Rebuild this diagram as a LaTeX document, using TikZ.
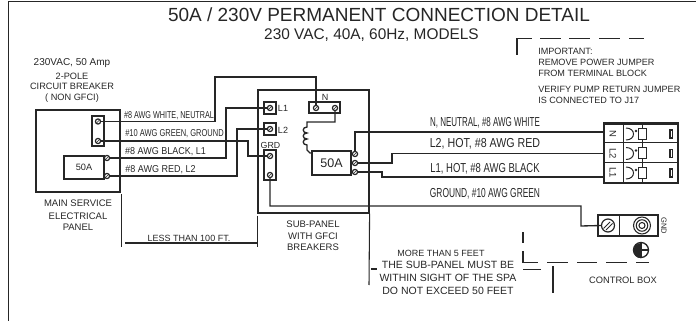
\documentclass[tikz,border=0pt]{standalone}
\usepackage{fontspec}
\usepackage{graphicx}
\setmainfont{Liberation Sans}
\usetikzlibrary{calc}
\newcommand{\pxfont}[1]{\fontsize{\dimexpr #1pt*3/4\relax}{\dimexpr #1pt*9/10\relax}\selectfont}
\newcommand{\cond}[2]{\scalebox{#1}[1]{#2}}
\def\px{0.75pt}
\colorlet{ink}{black!85}
\tikzset{
  x=0.75pt,y=-0.75pt,
  every node/.style={text=ink},
  frameline/.style={draw=ink,line width=0.75pt},
  wire/.style={draw=ink,line width=1pt},
  termbox/.style={draw=ink,line width=0.9pt,rectangle,inner sep=0pt},
  screw/.style={draw=ink,line width=0.9pt,circle,inner sep=0pt,minimum size=3.9pt,path picture={\draw[ink,line width=0.5pt] (path picture bounding box.south west)--(path picture bounding box.north east);}},
  lab/.style={inner sep=0pt,align=center},
  dimline/.style={draw=ink,line width=0.8pt},
  dashline/.style={draw=ink,line width=1pt},
  border/.style={draw=ink,line width=1.2pt},
}
\newcommand{\bx}[5]{\node[termbox,minimum width=#4*\px,minimum height=#5*\px] (#1) at (#2,#3) {};}
\begin{document}
\begin{tikzpicture}
\useasboundingbox (0,0) rectangle (697,321);
% frame
\coordinate (fa) at (8.5,321); \coordinate (fb) at (8.5,1.5); \coordinate (fc) at (696,1.5);
\draw[border] (fa)--(fb)--(fc);
% titles
\node[lab] (t1) at (379,15) {\pxfont{19}50A / 230V PERMANENT CONNECTION DETAIL};
\node[lab] (t2) at (371.5,35) {\pxfont{15.4}230 VAC, 40A, 60Hz, MODELS};
% breaker label
\node[lab] (b1) at (72,63) {\pxfont{10}230VAC, 50 Amp};
\node[lab] (b2) at (72,76) {\pxfont{9.2}2-POLE};
\node[lab] (b3) at (72,86) {\pxfont{9.2}CIRCUIT BREAKER};
\node[lab] (b4) at (72,98) {\pxfont{9.2}( NON GFCI)};
% main panel
\node[termbox,minimum width=84*\px,minimum height=82*\px] (main) at (78,151) {};
\bx{twop}{98}{131}{12}{30}
\bx{fifa}{84}{167.5}{40}{23}
\node[lab] at (fifa) {\pxfont{9.2}50A};
\node[screw] (sn) at (98,121.5) {};
\node[screw] (sg) at (98,141) {};
\node[screw] (s1) at (107,158) {};
\node[screw] (s2) at (107,176) {};
\node[lab] at (78,203) {\pxfont{9.5}MAIN SERVICE};
\node[lab] at (78,216) {\pxfont{9.5}ELECTRICAL};
\node[lab] at (78,227) {\pxfont{9.5}PANEL};
% sub panel
\node[termbox,minimum width=111*\px,minimum height=123*\px] (sub) at (313.5,151.5) {};
\bx{bl1}{270}{108}{12}{12}
\bx{bl2}{270}{129}{12}{12}
\bx{bgr}{270}{165}{12}{30}
\bx{bn}{324.5}{107.5}{31}{11}
\node[screw] (tl1) at (270,108) {};
\node[screw] (tl2) at (270,129) {};
\node[screw] (tg1) at (270,156) {};
\node[screw] (tg2) at (270,175) {};
\node[screw] (tn1) at (316,108) {};
\node[screw] (tn2) at (335,108) {};
\node[lab] at (283,108.5) {\pxfont{9}L1};
\node[lab] at (283,130) {\pxfont{9}L2};
\node[lab] at (270.5,145.5) {\pxfont{8.8}GRD};
\node[lab] at (325,97.5) {\pxfont{9}N};
\bx{gf}{331.5}{163}{39}{24}
\node[lab] at (gf) {\pxfont{12.5}50A};
\node[screw] (g1) at (355,154) {};
\node[screw] (g2) at (355,163) {};
\node[screw] (g3) at (355,172) {};
% wires
\draw[wire] (sn.east) -- (215,121.5) -- (215,77) -- (316,77) -- (tn1.north);
\draw[wire] (s1.east) -- (226,158) -- (226,108) -- (tl1.west);
\draw[wire] (s2.east) -- (237,176) -- (237,129) -- (tl2.west);
\draw[wire] (sg.east) -- (248,141) -- (248,156) -- (tg1.west);
\draw[wire] (tn2.south) -- (335,122) -- (307,122) -- (307,127)
  .. controls (302,127) and (302,133) .. (307,133)
  .. controls (302,133) and (302,139) .. (307,139)
  .. controls (302,139) and (302,145) .. (307,145)
  -- (307,150) -- (310,153) -- (gf.west |- 0,153);
% outgoing
\coordinate (tN) at (604,132); \coordinate (tL2) at (604,153.5); \coordinate (tL1) at (604,177);
\draw[wire] (g1.north) -- (355,132) -- (tN);
\draw[wire] (g2.east) -- (392,163) -- (392,153.5) -- (tL2);
\draw[wire] (g3.east) -- (382,172) -- (382,177) -- (tL1);
\node[lab] (w1) at (169,116) {\cond{0.72}{\pxfont{10}\#8 AWG WHITE, NEUTRAL}};
\node[lab] (w2) at (174.5,134) {\cond{0.75}{\pxfont{10}\#10 AWG GREEN, GROUND}};
\node[lab] (w3) at (165.5,152) {\cond{0.9}{\pxfont{10}\#8 AWG BLACK, L1}};
\node[lab] (w4) at (160.5,170) {\cond{0.9}{\pxfont{10}\#8 AWG RED, L2}};
\node[lab] (r1) at (485,123) {\cond{0.615}{\pxfont{13}N, NEUTRAL, \#8 AWG WHITE}};
\node[lab] (r2) at (485,143.5) {\cond{0.82}{\pxfont{13}L2, HOT, \#8 AWG RED}};
\node[lab] (r3) at (485,169) {\cond{0.73}{\pxfont{13}L1, HOT, \#8 AWG BLACK}};
\node[lab] (r4) at (485,193.5) {\cond{0.645}{\pxfont{13}GROUND, \#10 AWG GREEN}};
% terminal block
\node[draw=ink,line width=0.9pt,minimum width=74*\px,minimum height=59*\px,inner sep=0pt] (tb) at (641,153.5) {};
\draw[draw=ink,line width=1.5pt] (tb.north west) -- (tb.north east);
\draw[frameline] (623.5,124) -- (623.5,183);
\draw[frameline] (642,124) -- (642,183);
\draw[frameline] (604,143) -- (678,143);
\draw[frameline] (604,163) -- (678,163);
\foreach \n/\y/\t in {a/134/N,b/153.5/L2,c/173/L1}{
  \node[lab,rotate=-90] at (613,\y) {\pxfont{9.5}\t};
  \draw[frameline] (626,\y-6) .. controls (636,\y-6) and (636,\y+6) .. (626,\y+6);
  \draw[frameline,fill=white] (638,\y-5.5) rectangle (646,\y+5.5);
  \fill[ink] (636,\y-3) circle (1.1pt);
  \draw[frameline,line width=1pt] (670,\y-4) rectangle (672.5,\y+4);
}
% ground terminal
\node[termbox,minimum width=60*\px,minimum height=21*\px] (gt) at (628,225.5) {};
\draw[frameline] (619,215) -- (619,236);
\node[draw=ink,line width=0.9pt,circle,minimum size=13*\px,inner sep=0pt] (gs) at (608,225.5) {};
\draw[ink,line width=0.7pt] (603.5,228.5) -- (610,222) (606,230) -- (612.5,223.5);
\node[draw=ink,line width=0.8pt,circle,minimum size=17*\px,inner sep=0pt] (ring) at (642,225.5) {};
\node[draw=ink,line width=0.8pt,circle,minimum size=11.5*\px,inner sep=0pt] at (642,225.5) {};
\node[draw=ink,line width=0.8pt,circle,minimum size=6*\px,inner sep=0pt] at (642,225.5) {};
\node[lab,rotate=-90] at (664,225.5) {\pxfont{7.5}GND};
\node[draw=ink,line width=1pt,circle,minimum size=15*\px,inner sep=0pt] (earth) at (641,250) {};
\fill[ink] (earth.south) arc (90:270:7.5) -- cycle;
\draw[ink,line width=.8pt] (earth.north) -- (earth.south) (earth.center) -- (earth.east);
% ground wire
\draw[wire] (tg2.south) -- (270,206) -- (581,206) -- (581,226) -- (gs.west);
% dimensions
\coordinate (d1) at (121.5,194); \coordinate (d2) at (121.5,247);
\draw[dimline] (d1) -- (d2);
\draw[dimline] (125,243) -- (257,243);
\draw[dimline] (sub.south west) ++(0,2) -- ++(0,31);
\node[lab] at (189,238) {\pxfont{9}LESS THAN 100 FT.};
\node[lab] at (313,224) {\pxfont{9.5}SUB-PANEL};
\node[lab] at (313,236) {\pxfont{9.5}WITH GFCI};
\node[lab] at (313,247) {\pxfont{9.5}BREAKERS};
\draw[dimline] (sub.south east) -- (369,285);
\draw[dimline] (371,269) -- (377,269);
\node[lab] at (441,253) {\pxfont{9}MORE THAN 5 FEET};
\node[lab] at (448,265) {\pxfont{10.5}THE SUB-PANEL MUST BE};
\node[lab] at (448,278) {\pxfont{10.5}WITHIN SIGHT OF THE SPA};
\node[lab] at (448,291) {\pxfont{10.5}DO NOT EXCEED 50 FEET};
% control box dashes
\draw[dashline] (523,232) -- (523,243);
\draw[dashline] (523,251) -- (523,262.5) -- (538,262.5);
\foreach \a/\b in {547/568,577/597,606/627,636/649}{\draw[dashline] (\a,262.5) -- (\b,262.5);}
\draw[dashline] (523,269.5) -- (541,269.5);
\draw[dimline] (553,266) -- (553,293);
\node[lab] at (623,280) {\pxfont{9.3}CONTROL BOX};
% top right note
\draw[dashline] (517,55) -- (517,38.5) -- (532,38.5);
\foreach \a/\b in {540/561,569/590,599/620,629/644}{\draw[dashline] (\a,38.5) -- (\b,38.5);}
\node[lab,anchor=west] at (538,51) {\pxfont{9.1}IMPORTANT:};
\node[lab,anchor=west] at (538,62) {\pxfont{9.1}REMOVE POWER JUMPER};
\node[lab,anchor=west] at (538,73) {\pxfont{9.1}FROM TERMINAL BLOCK};
\node[lab,anchor=west] at (538,89) {\pxfont{9.1}VERIFY PUMP RETURN JUMPER};
\node[lab,anchor=west] at (538,100) {\pxfont{9.1}IS CONNECTED TO J17};
\end{tikzpicture}
\end{document}
